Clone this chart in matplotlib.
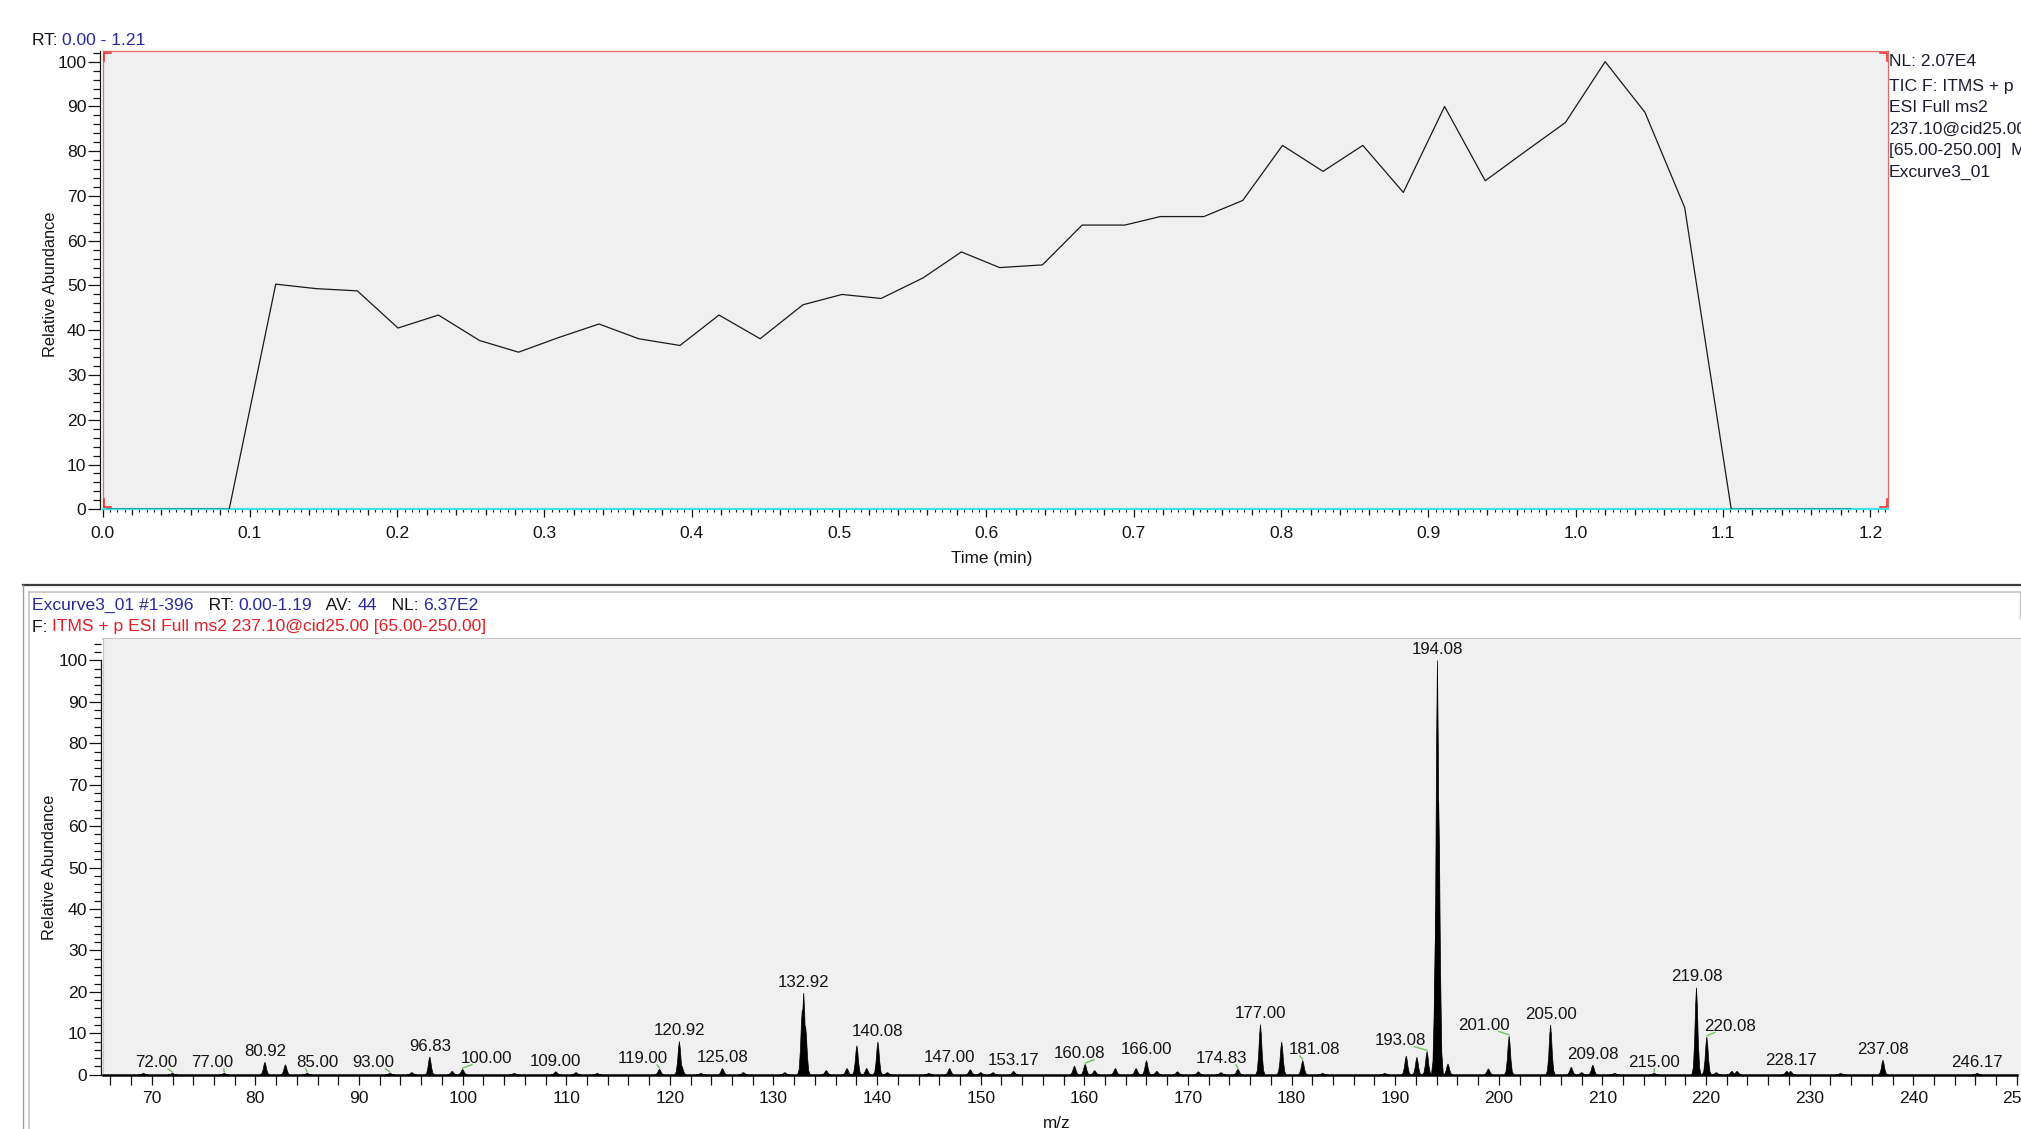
import matplotlib
matplotlib.use("Agg")
import matplotlib.pyplot as plt
import numpy as np
from matplotlib.ticker import MultipleLocator, FormatStrFormatter

plt.rcParams['font.family'] = ['Liberation Sans', 'DejaVu Sans']

# ---------------- data ----------------
# Total ion chromatogram (time in min, relative abundance in %)
tic_time = [0.003, 0.086, 0.1176, 0.145, 0.173, 0.2006, 0.228, 0.256, 0.2824,
            0.309, 0.337, 0.364, 0.392, 0.4185, 0.4464, 0.4755, 0.502, 0.5285,
            0.557, 0.583, 0.609, 0.638, 0.665, 0.694, 0.718, 0.7476, 0.774,
            0.801, 0.8285, 0.8555, 0.883, 0.911, 0.9386, 0.966, 0.993, 1.020,
            1.047, 1.074, 1.1056, 1.187]
tic_abund = [0, 0, 50.3, 49.3, 48.8, 40.5, 43.4, 37.7, 35.1,
             38.3, 41.4, 38.1, 36.6, 43.4, 38.1, 45.7, 48.0, 47.1,
             51.7, 57.5, 54.0, 54.6, 63.5, 63.5, 65.4, 65.4, 69.0,
             81.3, 75.5, 81.3, 70.8, 90.0, 73.4, 80.0, 86.4, 100.0,
             88.7, 67.4, 0, 0]

# MS2 spectrum: peak m/z and relative intensity (%)
spec_mz = [69.2, 72.00, 77.00, 80.92, 82.9, 85.00, 93.00, 95.1, 96.83, 99.0,
           100.00, 105.0, 109.00, 110.95, 113.0, 119.00, 120.92, 121.15, 123.0,
           125.08, 127.1, 131.1, 132.78, 132.92, 133.1, 135.1, 137.1, 138.05,
           139.0, 140.08, 141.0, 145.0, 147.00, 149.0, 150.0, 151.2, 153.17,
           159.05, 160.08, 161.0, 163.0, 165.0, 166.00, 167.0, 169.0, 171.0,
           173.2, 174.83, 177.00, 179.05, 181.08, 183.0, 189.0, 191.07, 192.1,
           193.08, 193.95, 194.08, 194.2, 195.1, 199.0, 201.00, 205.00, 207.0,
           208.0, 209.08, 211.2, 215.00, 219.08, 220.08, 221.0, 222.5, 223.0,
           227.8, 228.17, 233.0, 237.08, 246.17]
spec_int = [0.3, 0.3, 0.3, 3.0, 2.4, 0.3, 0.3, 0.5, 4.3, 0.8,
            1.3, 0.3, 0.7, 0.5, 0.3, 1.3, 8.0, 2.1, 0.3,
            1.5, 0.5, 0.5, 15.6, 19.7, 11.7, 1.0, 1.5, 7.0,
            1.5, 7.9, 0.5, 0.3, 1.5, 1.2, 0.5, 0.5, 0.8,
            2.1, 2.5, 1.0, 1.5, 1.5, 3.4, 0.8, 0.7, 0.7,
            0.5, 1.3, 12.1, 7.9, 3.4, 0.3, 0.3, 4.5, 4.2,
            5.6, 40.0, 100.0, 66.0, 2.6, 1.4, 9.3, 12.0, 1.8,
            0.5, 2.3, 0.3, 0.3, 21.0, 9.1, 0.5, 0.8, 0.8,
            0.8, 0.8, 0.3, 3.5, 0.3]

# annotated peaks
label_mz = [72.00, 77.00, 80.92, 85.00, 93.00, 96.83, 100.00, 109.00, 119.00,
            120.92, 125.08, 132.92, 140.08, 147.00, 153.17, 160.08, 166.00,
            174.83, 177.00, 181.08, 193.08, 194.08, 201.00, 205.00, 209.08,
            215.00, 219.08, 220.08, 228.17, 237.08, 246.17]

# ---------------- layout / style ----------------
W, H = 2021, 1129
fig = plt.figure(figsize=(W / 100, H / 100), dpi=100)
fig.patch.set_facecolor('white')

BLUE = '#2a2aa0'
RED = '#e41f26'
INK = '#141414'
FONT = 12.6

# pixel-space canvas for panel frames and headers
bg = fig.add_axes([0, 0, 1, 1], zorder=-10)
bg.set_xlim(0, W)
bg.set_ylim(H, 0)
bg.axis('off')
bg.plot([23, W], [585, 585], color='#3a3a3a', lw=1.6)
bg.plot([23, 23], [585, H], color='#9a9a9a', lw=1.0)
bg.plot([29, W], [592, 592], color='#c4c4c4', lw=1.2)
bg.plot([29, 29], [592, H], color='#c4c4c4', lw=1.2)
bg.plot([2020, 2020], [592, 618], color='#c4c4c4', lw=1.0)
bg.plot([103, W], [638.5, 638.5], color='#bdbdbd', lw=1.2)


def rainbow(x, y, parts, size=FONT):
    t = bg.text(x, y, parts[0][0], color=parts[0][1], fontsize=size,
                va='center', ha='left')
    for s, c in parts[1:]:
        t = bg.annotate(s, xy=(1, 0), xycoords=t, xytext=(0, 0),
                        textcoords='offset points', color=c, fontsize=size,
                        va='bottom', ha='left')


# ---------------- chromatogram panel ----------------
ax1 = fig.add_axes([102.5 / W, 1 - 509.3 / H, 1785.5 / W, (509.3 - 51.4) / H],
                   facecolor='#f0f0f0')
ax1.plot(tic_time, tic_abund, color='#1a1a1a', lw=0.9, zorder=3)
ax1.set_xlim(0, 1.212)
ax1.set_ylim(0, 102.3)
for s in ['top', 'right', 'left']:
    ax1.spines[s].set_color('#e06a6a')
    ax1.spines[s].set_linewidth(0.9)
ax1.spines['bottom'].set_color('#3fe3e3')
ax1.spines['bottom'].set_linewidth(1.6)
ax1.tick_params(axis='y', left=False, labelleft=False)
ax1.xaxis.set_major_locator(MultipleLocator(0.1))
ax1.xaxis.set_minor_locator(MultipleLocator(0.02))
ax1.xaxis.set_major_formatter(FormatStrFormatter('%.1f'))
ax1.tick_params(axis='x', which='major', length=5.5, width=0.9, color=INK,
                labelsize=FONT, pad=6.5, labelcolor=INK)
ax1.tick_params(axis='x', which='minor', length=4.0, width=0.9, color=INK)

sx1 = ax1.secondary_xaxis('bottom')
sx1.set_xticks(np.arange(0, 1.2125, 0.005))
sx1.tick_params(length=2.4, width=0.8, color=INK, labelbottom=False)
sx1.spines['bottom'].set_visible(False)

sy1 = ax1.secondary_yaxis(-0.0012)
sy1.yaxis.set_major_locator(MultipleLocator(10))
sy1.yaxis.set_minor_locator(MultipleLocator(2))
sy1.tick_params(which='major', length=9, width=0.9, labelsize=FONT, pad=1,
                color=INK, labelcolor=INK)
sy1.tick_params(which='minor', length=5, width=0.9, color=INK)
sy1.spines['left'].set_color(INK)
sy1.spines['left'].set_linewidth(0.9)

# zoom-range corner marks
cx, cy = 7 / 1785.5, 8 / 457.9
ex, ey = 1.5 / 1785.5, 2 / 457.9
for (x0, y0, sxn, syn) in [(ex, ey, 1, 1), (ex, 1 - ey, 1, -1),
                           (1 - ex, ey, -1, 1), (1 - ex, 1 - ey, -1, -1)]:
    ax1.plot([x0, x0, x0 + sxn * cx], [y0 + syn * cy, y0, y0],
             transform=ax1.transAxes, color='#ee2222', lw=1.1,
             clip_on=False, zorder=5)

rainbow(32, 40.7, [('RT: ', INK), ('0.00 - 1.21', BLUE)])
bg.text(51, 284, 'Relative Abundance', rotation=90, ha='center', va='center',
        fontsize=11.7, color=INK)
bg.text(992, 558.5, 'Time (min)', ha='center', va='center', fontsize=12.3,
        color=INK)
for y, line in zip([61, 86, 107.5, 129, 150.5, 172],
                   ['NL: 2.07E4', 'TIC F: ITMS + p', 'ESI Full ms2',
                    '237.10@cid25.00', '[65.00-250.00]  MS', 'Excurve3_01']):
    bg.text(1889, y, line, ha='left', va='center', fontsize=FONT,
            color='#1c1c30')

# ---------------- spectrum panel ----------------
ax2 = fig.add_axes([103.3 / W, 1 - 1074.7 / H, (W - 103.3) / W,
                    (1074.7 - 638.5) / H], facecolor='#f0f0f0')
ax2.set_xlim(65.32, 250.4)
ax2.set_ylim(0, 105.3)

# profile outline used for each peak (m/z offset, fraction of height)
peak_dx = np.array([-0.45, -0.3, -0.18, -0.08, 0.0, 0.08, 0.18, 0.3, 0.45])
peak_fr = np.array([0.0, 0.08, 0.38, 0.8, 1.0, 0.8, 0.38, 0.08, 0.0])
for m, h in zip(spec_mz, spec_int):
    ax2.fill(m + peak_dx, h * peak_fr, color='black', lw=0.5, zorder=3)

# labels that are shifted sideways get a leader line back to the peak
label_shift = {72.00: -1.6, 77.00: -1.2, 85.00: 1.0, 93.00: -1.6, 100.00: 2.3,
               119.00: -1.6, 160.08: -0.5, 174.83: -1.6, 181.08: 1.1,
               193.08: -2.6, 201.00: -2.4, 215.00: 0.0, 220.08: 2.2}
for m in label_mz:
    h = spec_int[spec_mz.index(m)]
    txt = f'{m:.2f}'
    if m in label_shift:
        dx = label_shift[m]
        rp = 0.5 if dx == 0 else (0.78 if dx < 0 else 0.22)
        ax2.annotate(txt, xy=(m, h + 0.3), xytext=(m + dx, h + 1.5),
                     ha='center', va='baseline', fontsize=12.2,
                     color=INK, zorder=4,
                     arrowprops=dict(arrowstyle='-', color='#6cc35a', lw=1.0,
                                     shrinkA=0, shrinkB=0, relpos=(rp, 0.1)))
    else:
        ax2.text(m, h + 1.5, txt, ha='center', va='baseline', fontsize=12.2,
                 color=INK, zorder=4)

for s in ['top', 'right']:
    ax2.spines[s].set_visible(False)
ax2.spines['left'].set_color('#c8c8c8')
ax2.spines['bottom'].set_color('black')
ax2.spines['bottom'].set_linewidth(1.8)
ax2.spines['bottom'].set_bounds(65.32, 250)
ax2.tick_params(axis='y', left=False, labelleft=False)
ax2.xaxis.set_major_locator(MultipleLocator(10))
ax2.xaxis.set_minor_locator(MultipleLocator(2))
ax2.tick_params(axis='x', which='both', length=7.5, width=0.9, color=INK)
ax2.tick_params(axis='x', which='major', labelsize=FONT, pad=4.5,
                labelcolor=INK)

sy2 = ax2.secondary_yaxis(-0.0011)
sy2.yaxis.set_major_locator(MultipleLocator(10))
sy2.yaxis.set_minor_locator(MultipleLocator(2))
sy2.set_ylim(0, 100)
sy2.tick_params(which='major', length=9, width=0.9, labelsize=FONT, pad=1,
                color=INK, labelcolor=INK)
sy2.tick_params(which='minor', length=5, width=0.9, color=INK)
sy2.spines['left'].set_color(INK)
sy2.spines['left'].set_linewidth(0.9)
sy2.spines['left'].set_bounds(0, 100)

rainbow(32, 605, [('Excurve3_01 #1-396', BLUE), ('   RT: ', INK),
                  ('0.00-1.19', BLUE), ('   AV: ', INK), ('44', BLUE),
                  ('   NL: ', INK), ('6.37E2', BLUE)])
rainbow(32, 627, [('F: ', INK),
                  ('ITMS + p ESI Full ms2 237.10@cid25.00 [65.00-250.00]', RED)])
bg.text(50, 867, 'Relative Abundance', rotation=90, ha='center', va='center',
        fontsize=11.7, color=INK)
bg.text(1057, 1123, 'm/z', ha='center', va='center', fontsize=12.3,
        color=INK)

fig.savefig('out.png', dpi=100, facecolor='white')
